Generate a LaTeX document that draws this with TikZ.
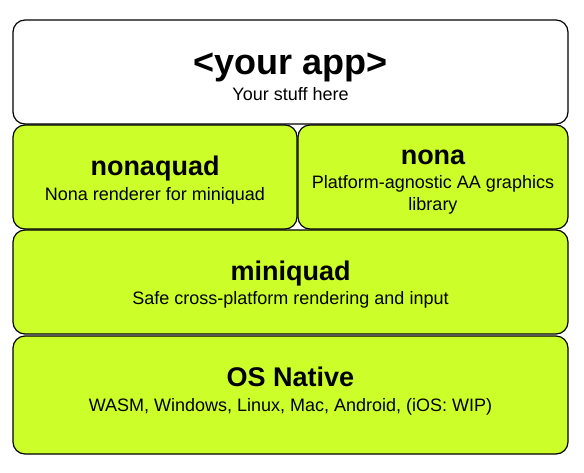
\documentclass[tikz,border=0pt]{standalone}
\usepackage{fontspec}
\setmainfont{Liberation Sans}
\usepackage{tikz}
\usetikzlibrary{positioning}
\definecolor{lime}{HTML}{CCFF2A}
\newcommand{\layertitle}[1]{{\fontsize{27}{30}\selectfont\bfseries #1}}

\begin{document}
\begin{tikzpicture}[
    x=1pt, y=-1pt,
    layer/.style={rectangle, draw, line width=1.2pt, rounded corners=12pt, fill=lime},
    wide/.style={minimum width=555pt, minimum height=104pt},
    half/.style={minimum height=104pt},
    layertext/.style={align=center, inner sep=0pt, font=\fontsize{18}{22}\selectfont}
]
    \useasboundingbox (0,0) rectangle (584,472);

    % boxes
    \node[layer, wide, fill=white] (app) at (290.5, 72) {};
    \node[layer, half, minimum width=284pt] (nonaquad) at (155, 177) {};
    \node[layer, half, minimum width=270pt] (nona) at (433, 177) {};
    \node[layer, wide] (miniquad) at (290.5, 282) {};
    \node[layer, wide, minimum height=118pt] (osnative) at (290.5, 395) {};

    % texts
    \node[layertext] (app-text) at ([yshift=-5pt]app.center)
        {{\fontsize{36}{40}\selectfont\bfseries <your app>}\\[4pt] Your stuff here};
    \node[layertext] (nonaquad-text) at ([yshift=-3.5pt]nonaquad.center)
        {\layertitle{nonaquad}\\[3pt] Nona renderer for miniquad};
    \node[layertext] (nona-text) at ([yshift=-5.5pt]nona.center)
        {\layertitle{nona}\\[2pt] Platform-agnostic AA graphics\\library};
    \node[layertext] (miniquad-text) at ([yshift=-3pt]miniquad.center)
        {\layertitle{miniquad}\\[2pt] Safe cross-platform rendering and input};
    \node[layertext] (osnative-text) at ([yshift=3.5pt]osnative.center)
        {\layertitle{OS Native}\\[3pt] WASM, Windows, Linux, Mac, Android, (iOS: WIP)};
\end{tikzpicture}
\end{document}
